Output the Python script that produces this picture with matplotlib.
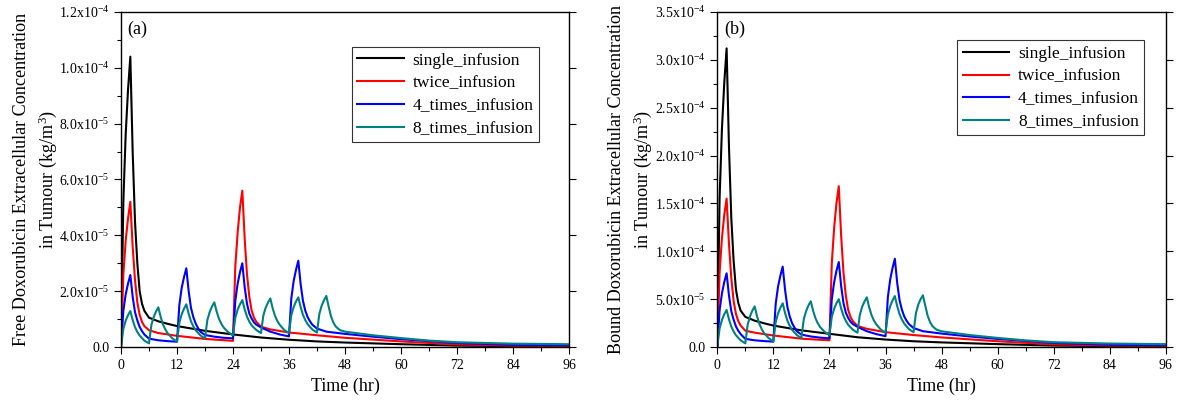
import numpy as np
import matplotlib
matplotlib.use("Agg")
import matplotlib.pyplot as plt
from matplotlib.ticker import MultipleLocator, FuncFormatter

plt.rcParams['font.family'] = ['Liberation Serif', 'DejaVu Serif']
plt.rcParams['mathtext.fontset'] = 'custom'
plt.rcParams['mathtext.rm'] = 'Liberation Serif'
plt.rcParams['mathtext.it'] = 'Liberation Serif:italic'

# all concentrations in units of 1e-5 kg/m^3, time in hr
labels = ['single_infusion', 'twice_infusion', '4_times_infusion', '8_times_infusion']
colors = ['black', '#ff0000', '#0000ff', '#008080']

t_single = [0, 0.5, 1, 1.5, 2, 2.5, 3, 3.5, 4, 4.5, 5, 6, 8, 10, 12, 18, 24, 30, 36, 42, 48, 60, 72, 84, 96]
free_single = [0, 5.2, 7.6, 9.2, 10.4, 7.0, 4.5, 3.0, 2.0, 1.55, 1.3, 1.05, 0.92, 0.83, 0.75, 0.58, 0.45,
               0.34, 0.26, 0.2, 0.16, 0.1, 0.05, 0.03, 0.02]
bound_single = [0, 15.6, 22.8, 27.6, 31.2, 21.0, 13.5, 9.0, 6.0, 4.6, 3.8, 3.15, 2.75, 2.48, 2.24, 1.74, 1.38,
                1.02, 0.78, 0.6, 0.48, 0.3, 0.15, 0.09, 0.06]

t_twice = [0, 0.5, 1, 1.5, 2, 2.5, 3, 3.5, 4, 4.5, 5, 6, 8, 12, 18, 24,
           24.5, 25, 25.5, 26, 26.5, 27, 27.5, 28, 28.5, 29, 30, 32, 36, 42, 48, 60, 72, 84, 96]
free_twice = [0, 2.6, 3.8, 4.6, 5.2, 3.6, 2.4, 1.6, 1.15, 0.9, 0.75, 0.6, 0.5, 0.4, 0.29, 0.22,
              2.9, 4.1, 5.0, 5.6, 3.9, 2.6, 1.8, 1.3, 1.05, 0.9, 0.73, 0.63, 0.52, 0.42, 0.33, 0.2, 0.09, 0.05, 0.04]
bound_twice = [0, 7.8, 11.4, 13.8, 15.5, 10.8, 7.2, 4.8, 3.45, 2.7, 2.25, 1.7, 1.5, 1.2, 0.87, 0.7,
               8.7, 12.4, 15.0, 16.8, 11.7, 7.8, 5.4, 3.9, 3.15, 2.7, 2.2, 1.9, 1.55, 1.25, 1.0, 0.6, 0.27, 0.15, 0.12]

t_four = [0, 0.5, 1, 1.5, 2, 2.5, 3, 3.5, 4, 4.5, 5, 6, 8, 10, 12,
          12.5, 13, 13.5, 14, 14.5, 15, 15.5, 16, 16.5, 17, 18, 20, 22, 24,
          24.5, 25, 25.5, 26, 26.5, 27, 27.5, 28, 28.5, 29, 30, 32, 34, 36,
          36.5, 37, 37.5, 38, 38.5, 39, 39.5, 40, 40.5, 41, 42, 44, 48, 54, 60, 72, 84, 96]
free_four = [0, 1.29, 1.88, 2.27, 2.58, 1.8, 1.25, 0.95, 0.72, 0.57, 0.45, 0.3, 0.24, 0.21, 0.19,
             1.5, 2.11, 2.5, 2.82, 2.0, 1.4, 1.07, 0.84, 0.68, 0.55, 0.43, 0.37, 0.33, 0.31,
             1.66, 2.27, 2.68, 3.0, 2.15, 1.55, 1.2, 1.02, 0.88, 0.8, 0.7, 0.55, 0.45, 0.38,
             1.74, 2.36, 2.76, 3.09, 2.25, 1.65, 1.3, 1.07, 0.92, 0.8, 0.66, 0.55, 0.47, 0.37, 0.28, 0.14, 0.08, 0.06]
bound_four = [0, 3.85, 5.6, 6.8, 7.7, 5.4, 3.75, 2.85, 2.15, 1.7, 1.35, 0.85, 0.7, 0.62, 0.56,
              4.5, 6.3, 7.45, 8.4, 6.0, 4.2, 3.2, 2.5, 2.05, 1.65, 1.3, 1.1, 0.98, 0.9,
              4.95, 6.75, 7.95, 8.88, 6.4, 4.6, 3.6, 3.05, 2.65, 2.4, 2.1, 1.65, 1.35, 1.13,
              5.2, 7.05, 8.25, 9.22, 6.7, 4.9, 3.9, 3.2, 2.75, 2.4, 1.98, 1.65, 1.4, 1.1, 0.84, 0.42, 0.24, 0.18]

# 8 infusions: half-hour samples up to 47 hr, then sparse tail
t_eight = np.concatenate([np.arange(0, 47.5, 0.5), [48, 54, 60, 66, 72, 84, 96]])
free_eight = [0, 0.65, 0.94, 1.14, 1.29, 0.97, 0.71, 0.54, 0.41, 0.32, 0.23, 0.18, 0.13,
              0.78, 1.07, 1.27, 1.42, 1.08, 0.81, 0.63, 0.49, 0.40, 0.31, 0.25, 0.20,
              0.87, 1.17, 1.37, 1.53, 1.19, 0.92, 0.74, 0.60, 0.51, 0.42, 0.36, 0.31,
              0.96, 1.25, 1.45, 1.60, 1.27, 1.01, 0.83, 0.70, 0.61, 0.53, 0.47, 0.42,
              1.05, 1.34, 1.53, 1.68, 1.35, 1.09, 0.91, 0.78, 0.69, 0.61, 0.55, 0.50,
              1.12, 1.41, 1.59, 1.74, 1.39, 1.12, 0.93, 0.80, 0.70, 0.61, 0.55, 0.50,
              1.14, 1.43, 1.63, 1.78, 1.43, 1.15, 0.96, 0.82, 0.72, 0.63, 0.57, 0.52,
              1.18, 1.48, 1.67, 1.83, 1.45, 1.10, 0.88, 0.74, 0.66, 0.60,
              0.55, 0.42, 0.32, 0.23, 0.17, 0.12, 0.10]
bound_eight = [0, 1.95, 2.82, 3.42, 3.87, 2.9, 2.13, 1.62, 1.23, 0.96, 0.69, 0.54, 0.38,
               2.33, 3.2, 3.8, 4.24, 3.23, 2.42, 1.88, 1.46, 1.2, 0.93, 0.75, 0.58,
               2.6, 3.5, 4.1, 4.57, 3.56, 2.75, 2.21, 1.8, 1.52, 1.26, 1.08, 0.93,
               2.88, 3.74, 4.33, 4.78, 3.8, 3.02, 2.48, 2.09, 1.82, 1.58, 1.4, 1.25,
               3.14, 4.0, 4.57, 5.0, 4.03, 3.26, 2.72, 2.33, 2.06, 1.82, 1.64, 1.5,
               3.35, 4.21, 4.75, 5.19, 4.15, 3.35, 2.78, 2.39, 2.09, 1.82, 1.64, 1.5,
               3.4, 4.27, 4.87, 5.32, 4.27, 3.44, 2.87, 2.45, 2.15, 1.88, 1.7, 1.55,
               3.52, 4.42, 4.99, 5.4, 4.33, 3.29, 2.63, 2.21, 1.97, 1.79,
               1.64, 1.25, 0.95, 0.69, 0.5, 0.36, 0.3]

times = [t_single, t_twice, t_four, t_eight]
free = [free_single, free_twice, free_four, free_eight]
bound = [bound_single, bound_twice, bound_four, bound_eight]


def sci_fmt(v, pos):
    if abs(v) < 1e-12:
        return '0.0'
    e = int(np.floor(np.log10(abs(v))))
    m = v / 10 ** e
    return r'$\mathregular{%.1fx10^{%d}}$' % (m, e)


def setup(ax, data, ymax, ystep, tag, ylabel, legend_anchor, label_x):
    for t, y, c, lab in zip(times, data, colors, labels):
        ax.plot(t, np.array(y) * 1e-5, color=c, lw=1.5, label=lab)
    ax.set_xlim(0, 96)
    ax.set_ylim(0, ymax)
    ax.xaxis.set_major_locator(MultipleLocator(12))
    ax.xaxis.set_minor_locator(MultipleLocator(6))
    ax.yaxis.set_major_locator(MultipleLocator(ystep))
    ax.yaxis.set_minor_locator(MultipleLocator(ystep / 2))
    ax.yaxis.set_major_formatter(FuncFormatter(sci_fmt))
    ax.tick_params(axis='both', which='both', direction='out', labelsize=10)
    ax.tick_params(axis='y', which='major', right=True)
    ax.tick_params(which='major', length=5, width=0.8)
    ax.tick_params(which='minor', length=3, width=0.8)
    ax.set_xlabel('Time (hr)', fontsize=13)
    ax.set_ylabel(ylabel, fontsize=13.1, linespacing=1.4)
    ax.yaxis.set_label_coords(label_x, 0.5)
    ax.text(0.015, 0.975, tag, transform=ax.transAxes, fontsize=13, va='top', ha='left')
    leg = ax.legend(loc='upper left', bbox_to_anchor=legend_anchor, fontsize=12.5, frameon=True,
                    fancybox=False, edgecolor='black', handlelength=2.7, handletextpad=0.5,
                    borderpad=0.3, labelspacing=0.38, borderaxespad=0)
    leg.get_frame().set_linewidth(0.8)
    for s in ax.spines.values():
        s.set_linewidth(1.0)


fig = plt.figure(figsize=(11.77, 4.08), dpi=100)
ax1 = fig.add_axes([0.1028, 0.1495, 0.3806, 0.8211])
ax2 = fig.add_axes([0.6094, 0.1495, 0.3812, 0.8211])

setup(ax1, free, 1.2e-4, 2e-5, '(a)',
      'Free Doxorubicin Extracellular Concentration\nin Tumour (kg/m$^3$)', (0.515, 0.895), -0.138)
setup(ax2, bound, 3.5e-4, 5e-5, '(b)',
      'Bound Doxorubicin Extracellular Concentration\nin Tumour (kg/m$^3$)', (0.535, 0.915), -0.140)

fig.savefig('out.png', dpi=100)
